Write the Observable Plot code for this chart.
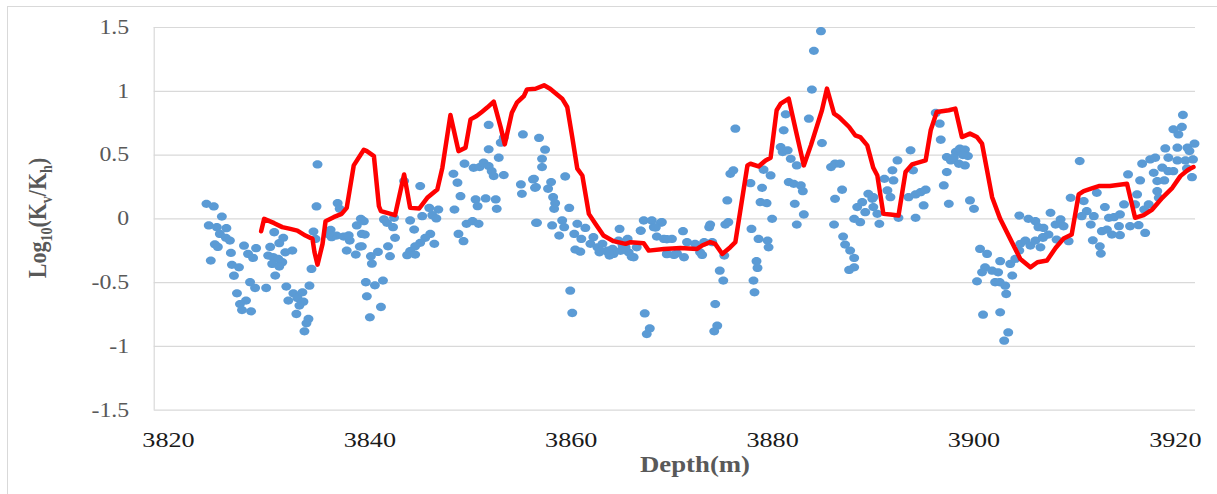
<!DOCTYPE html>
<html><head><meta charset="utf-8">
<script src="https://cdn.jsdelivr.net/npm/d3@7"></script>
<script src="https://cdn.jsdelivr.net/npm/@observablehq/plot@0.6"></script>
<style>
html,body{margin:0;padding:0;background:#fff;overflow:hidden;}
#frame{position:absolute;left:7px;top:6px;width:1300px;height:600px;border-left:1px solid #d9d9d9;border-top:1px solid #d9d9d9;}
#chart{position:absolute;left:0;top:0;}
</style></head><body>
<div id="frame"></div><div id="chart"></div>
<script>
const xTicks = [3820, 3840, 3860, 3880, 3900, 3920];
const yTicks = [-1.5, -1, -0.5, 0, 0.5, 1, 1.5];
const xDomain = [3818.58, 3922.0];
const yDomain = [-1.5, 1.5];
const xTitle = "Depth(m)";

// measured points: [depth (m), log10(Kv/Kh)]
const measured = [
[3823.77,0.118],[3824.5,0.097],[3825.3,0.018],[3824.0,-0.052],[3824.8,-0.065],[3825.75,-0.073],[3825.1,-0.118],[3825.7,-0.149],[3826.1,-0.17],[3824.6,-0.2],[3824.9,-0.22],[3826.2,-0.267],[3824.2,-0.327],[3827.5,-0.21],[3828.7,-0.23],[3827.9,-0.275],[3828.4,-0.306],[3826.3,-0.36],[3827.0,-0.38],[3826.5,-0.446],[3828.1,-0.497],[3828.6,-0.542],[3829.7,-0.542],[3826.8,-0.584],[3827.7,-0.641],[3827.1,-0.668],[3827.3,-0.715],[3828.2,-0.725],
[3830.5,-0.105],[3831.4,-0.149],[3831.0,-0.191],[3830.1,-0.22],[3832.3,-0.249],[3831.6,-0.262],[3829.9,-0.288],[3830.4,-0.301],[3830.9,-0.314],[3831.3,-0.34],[3830.3,-0.353],[3831.0,-0.374],[3830.6,-0.445],[3831.7,-0.531],[3832.4,-0.584],[3832.8,-0.62],[3833.3,-0.576],[3834.0,-0.524],[3831.9,-0.641],[3833.4,-0.649],[3833.0,-0.68],[3832.7,-0.746],[3833.9,-0.785],[3833.7,-0.819],[3833.5,-0.882],
[3834.8,0.427],[3834.7,0.097],[3834.4,-0.1],[3834.6,-0.157],[3834.2,-0.393],
[3836.1,-0.086],[3836.7,-0.131],[3837.4,-0.139],[3838.0,-0.17],[3836.2,-0.144],[3836.8,0.123],[3837.0,0.079],[3838.7,-0.052],[3839.1,0.0],[3839.2,-0.118],[3839.0,-0.217],[3837.7,-0.249],[3838.6,-0.28],[3835.9,-0.12],[3837.9,-0.13],
[3839.4,-0.018],[3839.5,-0.123],[3839.2,-0.215],[3840.1,-0.293],[3840.8,-0.259],[3840.2,-0.351],[3839.6,-0.497],[3840.5,-0.521],[3841.3,-0.484],[3839.7,-0.607],[3841.1,-0.691],[3840.0,-0.772],[3841.4,-0.005],[3841.7,-0.031],[3842.3,-0.065],[3842.4,0.008],[3842.5,-0.149],[3841.8,-0.215],[3842.0,-0.293],[3843.4,0.296],[3845.0,0.257],[3844.0,-0.013],[3844.4,-0.084],[3845.2,0.021],[3845.9,0.086],[3846.8,0.073],[3846.2,0.029],[3846.6,0.003],[3846.0,-0.118],[3846.4,-0.196],[3845.5,-0.149],[3845.0,-0.188],[3844.5,-0.215],[3844.0,-0.254],[3843.7,-0.285],[3844.5,-0.28],[3848.3,0.353],[3848.7,0.283],[3849.0,0.178],[3848.4,0.073],[3848.8,-0.118],[3849.3,-0.175],[3849.4,0.432],[3849.6,-0.039],[3850.3,0.4],[3850.9,0.406],[3851.3,0.44],[3851.8,0.414],[3852.1,0.374],[3852.3,0.335],[3853.3,0.343],[3850.5,0.152],[3850.7,0.099],[3851.5,0.16],[3852.5,0.152],[3852.6,0.079],[3850.2,-0.018],[3850.8,-0.039],[3851.8,0.736],[3851.8,0.545],[3852.8,0.479],[3853.0,0.597],[3853.3,0.636],[3855.2,0.662],[3855.0,0.27],[3855.1,0.196],[3856.2,0.309],[3856.4,0.243],[3856.5,-0.031],
[3856.8,0.634],[3857.4,0.542],[3857.1,0.471],[3857.1,0.406],[3856.3,0.314],[3856.5,0.249],[3858.0,0.288],[3857.7,0.236],[3858.2,0.17],[3858.4,0.123],[3858.3,0.079],[3859.4,0.332],[3859.8,0.086],[3856.6,-0.031],[3858.1,-0.052],[3859.1,-0.013],[3859.3,-0.065],[3858.8,-0.131],[3860.6,-0.039],[3861.4,-0.071],[3860.3,-0.118],[3861.0,-0.157],[3860.4,-0.241],[3860.9,-0.257],[3862.2,-0.144],[3861.9,-0.196],[3862.6,-0.223],[3863.1,-0.196],[3863.6,-0.249],[3864.1,-0.236],[3864.2,-0.275],[3864.8,-0.079],[3864.7,-0.17],[3865.1,-0.209],[3865.6,-0.157],[3865.7,-0.262],[3866.2,-0.301],[3866.5,-0.223],[3866.9,-0.092],[3867.2,-0.013],[3868.0,-0.013],[3868.2,-0.065],[3869.0,-0.026],[3868.5,-0.139],[3869.2,-0.157],[3869.5,-0.275],[3870.0,-0.157],[3870.5,-0.27],[3871.1,-0.097],[3871.2,-0.301],[3871.5,-0.183],[3872.3,-0.196],[3872.8,-0.262],[3859.9,-0.563],[3860.1,-0.738],[3867.3,-0.741],[3867.8,-0.859],[3867.5,-0.903],[3862.8,-0.262],[3863.8,-0.288],[3865.4,-0.223],
[3868.9,-0.03],[3868.4,-0.068],[3866.9,-0.094],[3869.5,-0.16],[3862.9,-0.251],[3863.7,-0.265],[3864.9,-0.251],[3866.0,-0.298],[3869.5,-0.277],[3870.2,-0.283],[3873.0,-0.283],
[3873.2,-0.183],[3874.0,-0.183],[3873.7,-0.065],[3873.8,-0.045],[3874.75,-0.406],[3875.1,-0.484],[3874.3,-0.668],[3874.5,-0.838],[3874.2,-0.882],[3875.2,-0.288],[3875.3,-0.045],[3875.6,-0.026],[3875.5,0.144],[3875.8,0.353],[3876.1,0.38],[3876.3,0.707],[3877.8,0.28],[3877.9,-0.079],[3878.6,-0.157],[3878.4,-0.332],[3878.5,-0.385],[3878.1,-0.484],[3878.2,-0.576],[3878.95,0.243],[3878.8,0.131],[3879.4,0.123],[3879.1,0.385],[3879.8,0.34],[3879.95,0.0],[3879.5,-0.17],[3879.6,-0.223],[3880.8,0.563],[3881.0,0.524],[3881.5,0.537],[3881.1,0.694],[3881.3,0.819],[3881.8,0.471],[3882.4,0.419],[3881.6,0.288],[3882.1,0.275],[3882.8,0.262],[3883.0,0.217],[3882.2,0.118],[3883.1,0.034],[3882.4,-0.045],[3883.6,0.785],[3883.9,1.013],[3884.1,1.317],[3884.8,1.471],[3884.9,0.594],[3885.8,0.406],[3886.2,0.432],[3886.7,0.432],[3886.9,0.228],[3886.2,0.157],[3886.1,-0.045],[3887.0,-0.139],[3887.2,-0.202],[3887.7,-0.249],[3888.1,-0.306],[3888.1,-0.38],[3887.6,-0.4],[3888.4,0.092],[3888.9,0.131],[3889.2,0.052],[3889.5,0.196],[3889.9,0.157],[3888.7,-0.026],[3888.1,0.0],
[3890.0,0.17],[3890.0,0.092],[3890.4,0.039],[3890.6,-0.039],[3891.1,0.314],[3891.4,0.223],[3891.9,0.38],[3892.4,0.458],[3892.0,0.301],[3891.7,0.17],[3892.5,0.008],[3893.7,0.537],[3893.95,0.38],[3893.5,0.17],[3894.2,0.191],[3894.7,0.209],[3895.2,0.228],[3895.0,0.105],[3894.2,0.008],[3896.2,0.83],[3896.6,0.746],[3896.7,0.62],[3897.3,0.484],[3897.7,0.458],[3898.2,0.524],[3898.6,0.55],[3899.1,0.542],[3899.4,0.492],[3898.5,0.432],[3899.1,0.419],[3897.3,0.367],[3897.0,0.262],[3897.5,0.118],[3899.6,0.144],[3900.0,0.079],[3898.0,0.48],[3898.9,0.5],
[3900.6,-0.236],[3901.3,-0.275],[3901.1,-0.38],[3900.8,-0.419],[3900.3,-0.49],[3901.8,-0.406],[3902.4,-0.419],[3902.6,-0.332],[3902.1,-0.497],[3902.55,-0.497],[3903.1,-0.524],[3903.2,-0.589],[3903.8,-0.445],[3903.6,-0.353],[3904.1,-0.314],[3904.5,-0.249],[3904.6,-0.196],[3905.1,-0.17],[3905.6,-0.209],[3906.1,-0.17],[3906.6,-0.223],[3906.85,-0.144],[3904.5,0.026],[3905.4,0.0],[3906.1,-0.018],[3906.4,-0.065],[3900.9,-0.751],[3902.6,-0.733],[3903.4,-0.89],[3903.0,-0.955],
[3906.9,-0.071],[3906.85,-0.149],[3907.6,0.047],[3908.1,-0.045],[3908.6,-0.005],[3908.9,-0.058],[3907.4,-0.123],[3908.2,-0.162],[3909.4,-0.175],[3909.6,0.165],[3910.5,0.453],[3910.9,0.139],[3911.2,0.06],[3910.7,0.021],[3911.9,0.021],[3911.6,-0.045],[3912.2,0.204],[3913.0,0.092],[3913.4,0.008],[3913.9,0.013],[3914.5,0.034],[3914.9,0.113],[3912.7,-0.097],[3913.2,-0.084],[3913.7,-0.123],[3914.4,-0.058],[3914.5,-0.128],[3911.8,-0.168],[3912.5,-0.215],[3912.6,-0.272],[3915.5,-0.058],[3916.35,-0.05],[3917.0,-0.11],
[3915.3,0.348],[3916.5,0.301],[3916.2,0.191],[3916.0,0.113],[3916.9,0.073],[3917.35,0.113],[3916.7,0.432],[3917.5,0.466],[3918.0,0.479],[3917.85,0.361],[3918.2,0.296],[3918.9,0.301],[3918.2,0.217],[3918.35,0.165],[3918.7,0.401],[3919.3,0.374],[3919.8,0.374],[3919.3,0.479],[3919.0,0.552],[3920.2,0.458],[3921.0,0.458],[3921.75,0.466],[3921.15,0.395],[3921.65,0.327],[3920.2,0.558],[3921.2,0.558],[3921.9,0.589],[3919.8,0.702],[3920.65,0.72],[3920.3,0.662],[3920.75,0.814],[3921.4,0.531]
];

// fitted curve: [depth (m), log10(Kv/Kh)]
const curve = [
[3829.2,-0.097],[3829.5,0.0],[3830.5,-0.034],[3831.3,-0.065],[3832.1,-0.079],[3832.8,-0.092],[3833.6,-0.131],[3834.3,-0.157],[3834.5,-0.262],[3834.8,-0.359],[3835.3,-0.196],[3835.6,-0.018],[3836.4,0.013],[3837.2,0.039],[3837.7,0.086],[3838.4,0.419],[3839.4,0.542],[3839.7,0.531],[3840.4,0.492],[3840.9,0.099],[3841.1,0.06],[3842.5,0.029],[3843.4,0.348],[3844.0,0.086],[3844.9,0.081],[3845.7,0.165],[3846.7,0.23],[3847.2,0.401],[3848.0,0.814],[3848.8,0.531],[3849.5,0.558],[3850.0,0.78],[3850.6,0.806],[3851.15,0.84],[3851.65,0.872],[3852.3,0.919],[3853.0,0.715],[3853.4,0.584],[3854.1,0.832],[3854.6,0.911],[3855.3,0.963],[3855.6,1.015],[3856.45,1.02],[3857.3,1.047],[3857.9,1.02],[3859.1,0.942],[3859.6,0.877],[3860.1,0.641],[3860.6,0.393],[3861.1,0.34],[3861.75,0.039],[3862.4,-0.039],[3863.2,-0.131],[3864.2,-0.175],[3865.4,-0.196],[3865.9,-0.183],[3867.2,-0.191],[3867.7,-0.249],[3869.2,-0.236],[3870.85,-0.228],[3872.5,-0.236],[3873.0,-0.209],[3873.8,-0.183],[3874.3,-0.196],[3875.0,-0.275],[3875.8,-0.222],[3876.3,-0.183],[3877.5,0.419],[3877.8,0.432],[3878.6,0.411],[3879.3,0.458],[3879.8,0.479],[3880.4,0.851],[3880.8,0.903],[3881.6,0.942],[3882.3,0.694],[3883.1,0.419],[3883.8,0.576],[3884.9,0.851],[3885.4,1.021],[3886.1,0.825],[3886.6,0.798],[3887.6,0.72],[3888.2,0.655],[3888.7,0.641],[3889.4,0.576],[3890.0,0.4],[3890.4,0.34],[3891.0,0.039],[3891.7,0.034],[3892.5,0.026],[3893.2,0.367],[3893.85,0.427],[3895.2,0.458],[3895.7,0.694],[3896.3,0.838],[3897.5,0.851],[3898.15,0.864],[3898.8,0.641],[3899.6,0.668],[3900.3,0.641],[3900.8,0.589],[3901.8,0.17],[3902.6,0.0],[3903.6,-0.157],[3904.6,-0.314],[3905.6,-0.38],[3906.3,-0.34],[3907.25,-0.327],[3908.1,-0.228],[3908.9,-0.154],[3909.7,-0.123],[3910.4,0.191],[3910.9,0.217],[3911.7,0.238],[3912.4,0.257],[3913.5,0.257],[3915.2,0.275],[3916.0,0.008],[3916.85,0.029],[3917.7,0.073],[3918.7,0.165],[3919.7,0.243],[3920.5,0.335],[3921.3,0.387],[3921.8,0.406]
];

const serif = "'Liberation Serif', 'Times New Roman', 'DejaVu Serif', serif";
const SX = 1.19; // horizontal stretch of the original picture

const ellipse = {
  draw(ctx, size) {
    const r = Math.sqrt(size / Math.PI), rx = r * 1.08, ry = r * 0.9, k = 0.5523;
    ctx.moveTo(rx, 0);
    ctx.bezierCurveTo(rx, ry * k, rx * k, ry, 0, ry);
    ctx.bezierCurveTo(-rx * k, ry, -rx, ry * k, -rx, 0);
    ctx.bezierCurveTo(-rx, -ry * k, -rx * k, -ry, 0, -ry);
    ctx.bezierCurveTo(rx * k, -ry, rx, -ry * k, rx, 0);
    ctx.closePath();
  }
};

const chart = Plot.plot({
  width: 1217, height: 494,
  marginLeft: 153.7, marginRight: 22, marginTop: 27, marginBottom: 84.3,
  style: {fontFamily: serif, background: "transparent", overflow: "visible"},
  x: {domain: xDomain, label: null},
  y: {domain: yDomain, label: null},
  marks: [
    Plot.gridY(yTicks, {stroke: "#d9d9d9", strokeOpacity: 1, strokeWidth: 1.2}),
    Plot.ruleX([xDomain[0]], {stroke: "#d9d9d9", strokeWidth: 1.2}),
    Plot.axisY(yTicks, {tickSize: 0, tickPadding: 25, tickFormat: d => String(d), fontSize: 20, fill: "#595959", label: null}),
    Plot.axisX(xTicks, {tickSize: 0, tickPadding: 21.4, tickFormat: d => String(d), fontSize: 22, fill: "#1a1a1a", label: null}),
    Plot.dot(measured, {x: d => d[0], y: d => d[1], r: 4.6, symbol: ellipse, fill: "#5B9BD5", stroke: null}),
    Plot.line(curve, {x: d => d[0], y: d => d[1], stroke: "#FF0000", strokeWidth: 4.5, strokeLinejoin: "round", strokeLinecap: "round"})
  ]
});
document.getElementById("chart").appendChild(chart);

const svg = d3.select(chart);
svg.selectAll('g[aria-label="x-axis tick label"] text, g[aria-label="y-axis tick label"] text').each(function() {
  const t = this.getAttribute("transform") || "";
  this.setAttribute("transform", t + ` scale(${SX},1)`);
});

// y-axis title with subscripts
const yt = svg.append("text")
  .attr("transform", `translate(46,218) scale(${SX},1) rotate(-90)`)
  .attr("text-anchor", "middle")
  .attr("font-family", serif).attr("font-weight", "bold")
  .attr("font-size", 22).attr("fill", "#595959");
yt.append("tspan").text("Log");
yt.append("tspan").attr("font-size", 14).attr("dy", 5).text("10");
yt.append("tspan").attr("dy", -5).text("(K");
yt.append("tspan").attr("font-size", 14).attr("dy", 5).text("v");
yt.append("tspan").attr("dy", -5).text("/K");
yt.append("tspan").attr("font-size", 14).attr("dy", 5).text("h");
yt.append("tspan").attr("dy", -5).text(")");

// x-axis title
svg.append("text")
  .attr("transform", `translate(695,471.5) scale(${SX},1)`)
  .attr("text-anchor", "middle")
  .attr("font-family", serif).attr("font-weight", "bold")
  .attr("font-size", 22.5).attr("fill", "#595959")
  .text(xTitle);
</script>
</body></html>
